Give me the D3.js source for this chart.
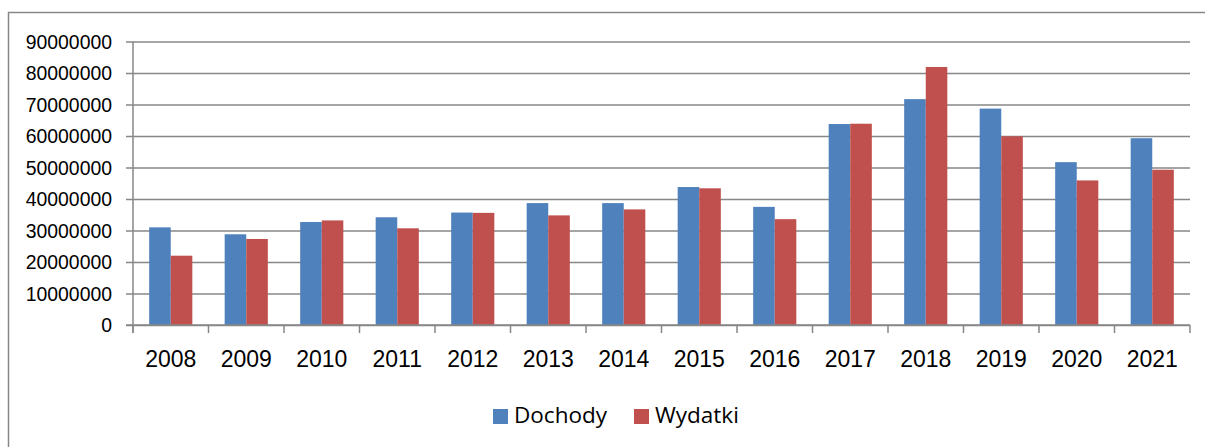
<!DOCTYPE html>
<html>
<head>
<meta charset="utf-8">
<script src="https://cdn.jsdelivr.net/npm/d3@7"></script>
<style>
  html, body { margin: 0; padding: 0; background: #fff; overflow: hidden; }
  svg { display: block; font-family: "Open Sans", "Liberation Sans", sans-serif; }
</style>
</head>
<body>
<svg id="chart" width="1205" height="447"></svg>
<script>
// chart data
var years = ['2008', '2009', '2010', '2011', '2012', '2013', '2014',
             '2015', '2016', '2017', '2018', '2019', '2020', '2021'];
var seriesNames = ['Dochody', 'Wydatki'];
var dochody = [31000000, 28800000, 32700000, 34200000, 35700000, 38700000, 38700000,
               43800000, 37500000, 63800000, 71700000, 68700000, 51700000, 59300000];
var wydatki = [22000000, 27300000, 33200000, 30700000, 35600000, 34800000, 36700000,
               43400000, 33600000, 63900000, 81900000, 59900000, 45900000, 49300000];
var yTicks = [0, 10000000, 20000000, 30000000, 40000000, 50000000,
              60000000, 70000000, 80000000, 90000000];
var colors = ['#4F81BD', '#C0504D'];

var gridColor = '#878787';
var plot = {left: 133, right: 1190, top: 41.5, bottom: 325};

var svg = d3.select('#chart');

// outer frame of the chart area (runs off the right and bottom edges)
svg.append('path')
    .attr('d', 'M8.5,460V12.5H1220')
    .attr('fill', 'none')
    .attr('stroke', gridColor)
    .attr('stroke-width', 1.5);

var x = d3.scaleBand()
    .domain(years)
    .range([plot.left, plot.right])
    .padding(0);

var xSeries = d3.scaleBand()
    .domain(seriesNames)
    .range([0, x.bandwidth()])
    .paddingInner(0)
    .paddingOuter(0.75);

var y = d3.scaleLinear()
    .domain([0, 90000000])
    .range([plot.bottom, plot.top]);

// gridlines + y axis
var yAxis = svg.append('g')
    .attr('transform', 'translate(' + plot.left + ',0)')
    .call(d3.axisLeft(y)
        .tickValues(yTicks)
        .tickFormat(d3.format('d'))
        .tickSize(7)
        .tickPadding(14));
yAxis.select('.domain').remove();
yAxis.selectAll('.tick line')
    .attr('x1', -7).attr('x2', plot.right - plot.left)
    .attr('stroke', gridColor).attr('stroke-width', 1.5);
yAxis.selectAll('.tick text')
    .attr('fill', '#000')
    .attr('font-size', 19.4)
    .attr('dy', '0.36em');

// bars
var rows = years.map(function(yr, i){
    return {year: yr, values: [dochody[i], wydatki[i]]};
});

var groups = svg.append('g').selectAll('g')
    .data(rows)
    .join('g')
    .attr('transform', function(d){ return 'translate(' + x(d.year) + ',0)'; });

groups.selectAll('rect')
    .data(function(d){
        return d.values.map(function(v, j){ return {name: seriesNames[j], value: v, idx: j}; });
    })
    .join('rect')
    .attr('x', function(d){ return xSeries(d.name); })
    .attr('width', xSeries.bandwidth())
    .attr('y', function(d){ return y(d.value); })
    .attr('height', function(d){ return y(0) - y(d.value); })
    .attr('fill', function(d){ return colors[d.idx]; });

// vertical axis line
svg.append('line')
    .attr('x1', plot.left).attr('x2', plot.left)
    .attr('y1', plot.top).attr('y2', plot.bottom + 8)
    .attr('stroke', gridColor).attr('stroke-width', 1.5);

// x axis
var xAxis = svg.append('g')
    .attr('transform', 'translate(0,' + plot.bottom + ')')
    .call(d3.axisBottom(x).tickSize(0).tickPadding(0));
xAxis.select('.domain')
    .attr('d', 'M' + (plot.left - 7) + ',0H' + plot.right)
    .attr('stroke', gridColor).attr('stroke-width', 1.5);
xAxis.selectAll('.tick text')
    .attr('fill', '#000')
    .attr('font-size', 23)
    .attr('y', 42)
    .attr('dy', 0);

// tick marks at category boundaries
var bounds = years.map(function(yr){ return x(yr); }).concat([plot.right]);
xAxis.selectAll('line.bound')
    .data(bounds)
    .join('line')
    .attr('class', 'bound')
    .attr('x1', function(d){ return d; }).attr('x2', function(d){ return d; })
    .attr('y1', 0).attr('y2', 8)
    .attr('stroke', gridColor).attr('stroke-width', 1.5);

// legend
var legend = svg.append('g');
var legendItems = [
    {name: seriesNames[0], color: colors[0], x: 493},
    {name: seriesNames[1], color: colors[1], x: 634}
];
legend.selectAll('rect')
    .data(legendItems)
    .join('rect')
    .attr('x', function(d){ return d.x; })
    .attr('y', 409)
    .attr('width', 15).attr('height', 15)
    .attr('fill', function(d){ return d.color; });
legend.selectAll('text')
    .data(legendItems)
    .join('text')
    .attr('x', function(d){ return d.x + 21; })
    .attr('y', 423)
    .attr('font-size', 22.5)
    .attr('fill', '#000')
    .text(function(d){ return d.name; });
</script>
</body>
</html>
